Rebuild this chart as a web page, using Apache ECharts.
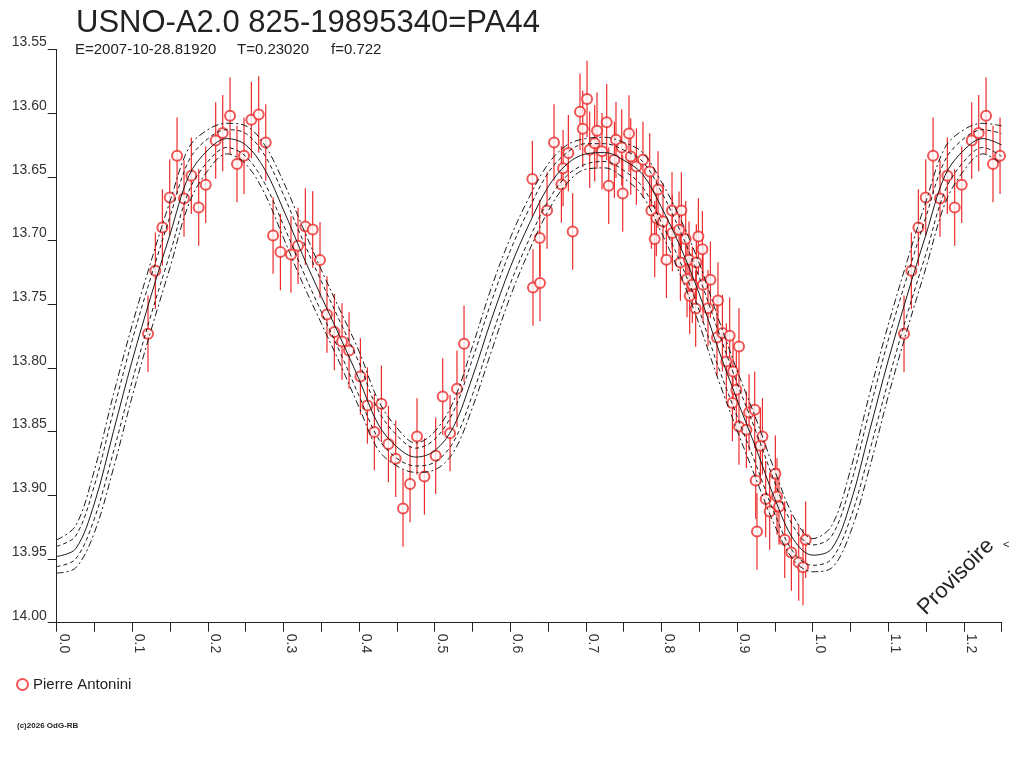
<!DOCTYPE html>
<html lang="fr">
<head>
<meta charset="UTF-8">
<title>USNO-A2.0 825-19895340=PA44</title>
<script src="https://cdn.jsdelivr.net/npm/echarts@6/dist/echarts.min.js"></script>
<style>
    html, body { margin: 0; padding: 0; background: #fff; }
    #app { width: 1024px; height: 768px; }
</style>
</head>
<body>
<div id="app"></div>
<script>
    // observations (Pierre Antonini): phase and magnitude
    var obsPhase = [
        0.1208, 0.1305, 0.1398, 0.1495, 0.1592, 0.1684, 0.1781, 0.1878, 0.1971, 0.2103,
        0.2196, 0.2293, 0.2385, 0.2478, 0.2575, 0.2672, 0.2765, 0.2862, 0.2959, 0.3099,
        0.3192, 0.3289, 0.3386, 0.3483, 0.3575, 0.3673, 0.3774, 0.3867, 0.4017, 0.4110,
        0.4202, 0.4295, 0.4388, 0.4484, 0.4581, 0.4674, 0.4766, 0.4864, 0.5013, 0.5106,
        0.5203, 0.5295, 0.5388, 0.6292, 0.6300, 0.6389, 0.6393, 0.6486, 0.6578, 0.6676,
        0.6698, 0.6768, 0.6825, 0.6922, 0.6958, 0.7015, 0.7050, 0.7116, 0.7147, 0.7213,
        0.7275, 0.7302, 0.7377, 0.7398, 0.7474, 0.7487, 0.7570, 0.7593, 0.7668, 0.7755,
        0.7844, 0.7866, 0.7910, 0.7932, 0.7954, 0.8020, 0.8065, 0.8139, 0.8144, 0.8232,
        0.8250, 0.8263, 0.8320, 0.8338, 0.8364, 0.8373, 0.8408, 0.8452, 0.8461, 0.8488,
        0.8541, 0.8549, 0.8615, 0.8647, 0.8734, 0.8747, 0.8806, 0.8858, 0.8902, 0.8938,
        0.8946, 0.8990, 0.9025, 0.9025, 0.9123, 0.9158, 0.9233, 0.9246, 0.9263, 0.9308,
        0.9335, 0.9378, 0.9431, 0.9506, 0.9528, 0.9554, 0.9630, 0.9718, 0.9815, 0.9872,
        0.9907
    ];
    var obsMag = [
        13.7732, 13.7238, 13.6898, 13.6662, 13.6335, 13.6670, 13.6492, 13.6741, 13.6563, 13.6215,
        13.6157, 13.6021, 13.6400, 13.6335, 13.6053, 13.6011, 13.6231, 13.6961, 13.7091, 13.7110,
        13.7042, 13.6890, 13.6914, 13.7154, 13.7581, 13.7719, 13.7793, 13.7863, 13.8068, 13.8295,
        13.8504, 13.8282, 13.8598, 13.8713, 13.9104, 13.8912, 13.8538, 13.8852, 13.8690, 13.8224,
        13.8512, 13.8164, 13.7811, 13.6518, 13.7369, 13.6981, 13.7334, 13.6765, 13.6231, 13.6560,
        13.6432, 13.6314, 13.6929, 13.5990, 13.6123, 13.5890, 13.6288, 13.6236, 13.6139, 13.6300,
        13.6071, 13.6570, 13.6367, 13.6210, 13.6270, 13.6631, 13.6160, 13.6340, 13.6419, 13.6367,
        13.6458, 13.6765, 13.6989, 13.6824, 13.6600, 13.6851, 13.7151, 13.6765, 13.6942, 13.6916,
        13.7172, 13.6765, 13.6989, 13.7303, 13.7151, 13.7434, 13.7348, 13.7534, 13.7172, 13.6969,
        13.7068, 13.7348, 13.7531, 13.7308, 13.7761, 13.7471, 13.7727, 13.7950, 13.7748, 13.8276,
        13.8028, 13.8172, 13.7832, 13.8460, 13.8486, 13.8350, 13.8329, 13.8884, 13.9284, 13.8611,
        13.8538, 13.9030, 13.9127, 13.8831, 13.9009, 13.9088, 13.9349, 13.9449, 13.9527, 13.9564,
        13.9349
    ];
    var errBar = 0.030;

    // fitted light curve and its envelopes, one value per fitPhase
    var fitPhase = [
        0.000, 0.025, 0.050, 0.075, 0.100, 0.125, 0.150, 0.175, 0.200, 0.225,
        0.250, 0.275, 0.300, 0.325, 0.350, 0.375, 0.400, 0.425, 0.450, 0.475,
        0.500, 0.525, 0.550, 0.575, 0.600, 0.625, 0.650, 0.675, 0.700, 0.725,
        0.750, 0.775, 0.800, 0.825, 0.850, 0.875, 0.900, 0.925, 0.950, 0.975,
        1.000
    ];
    var fitMag = [
        13.948, 13.942, 13.906, 13.850, 13.794, 13.743, 13.695, 13.649, 13.629, 13.620,
        13.625, 13.644, 13.676, 13.711, 13.744, 13.776, 13.809, 13.844, 13.862, 13.870,
        13.865, 13.846, 13.807, 13.762, 13.721, 13.687, 13.658, 13.640, 13.632, 13.631,
        13.637, 13.648, 13.674, 13.705, 13.742, 13.785, 13.825, 13.863, 13.903, 13.935,
        13.947
    ];
    var fitUpOuter = [
        13.935, 13.924, 13.880, 13.821, 13.766, 13.716, 13.669, 13.627, 13.613, 13.608,
        13.610, 13.625, 13.654, 13.689, 13.723, 13.755, 13.787, 13.825, 13.847, 13.859,
        13.850, 13.826, 13.783, 13.737, 13.698, 13.666, 13.640, 13.625, 13.620, 13.619,
        13.623, 13.631, 13.654, 13.683, 13.718, 13.761, 13.802, 13.840, 13.881, 13.917,
        13.934
    ];
    var fitUpInner = [
        13.940, 13.932, 13.892, 13.834, 13.778, 13.728, 13.681, 13.637, 13.620, 13.613,
        13.616, 13.633, 13.664, 13.699, 13.732, 13.764, 13.796, 13.833, 13.853, 13.863,
        13.856, 13.834, 13.793, 13.748, 13.708, 13.675, 13.647, 13.631, 13.624, 13.624,
        13.629, 13.638, 13.662, 13.693, 13.729, 13.771, 13.812, 13.850, 13.890, 13.925,
        13.939
    ];
    var fitLowInner = [
        13.956, 13.950, 13.918, 13.866, 13.810, 13.758, 13.710, 13.661, 13.638, 13.627,
        13.634, 13.655, 13.688, 13.723, 13.756, 13.788, 13.822, 13.855, 13.871, 13.877,
        13.874, 13.858, 13.821, 13.776, 13.734, 13.699, 13.669, 13.649, 13.640, 13.638,
        13.645, 13.658, 13.686, 13.717, 13.755, 13.799, 13.838, 13.876, 13.915, 13.945,
        13.955
    ];
    var fitLowOuter = [
        13.961, 13.957, 13.929, 13.879, 13.822, 13.770, 13.721, 13.671, 13.645, 13.632,
        13.640, 13.663, 13.698, 13.733, 13.765, 13.797, 13.831, 13.864, 13.877, 13.882,
        13.880, 13.866, 13.831, 13.787, 13.744, 13.708, 13.677, 13.655, 13.644, 13.643,
        13.651, 13.665, 13.694, 13.727, 13.766, 13.809, 13.849, 13.887, 13.924, 13.951,
        13.960
    ];

    var phaseMax = 1.25;
    var magMin = 13.55, magMax = 14.00;
    var observer = 'Pierre Antonini';

    var FONT = '"Liberation Sans", Arial, sans-serif';
    var RED = '#ee2b2b';

    // the phase diagram is shown once more after 1.0, up to phaseMax
    function phased(ph, vals) {
        var out = [];
        for (var i = 0; i < ph.length; i++) out.push([ph[i], vals[i]]);
        for (var i = 0; i < ph.length; i++) {
            if (ph[i] > 0 && ph[i] + 1 <= phaseMax) out.push([ph[i] + 1, vals[i]]);
        }
        out.sort(function (a, b) { return a[0] - b[0]; });
        return out;
    }

    var obsData = phased(obsPhase, obsMag);

    function fitLine(vals, dash) {
        return {
            type: 'line',
            data: phased(fitPhase, vals),
            symbol: 'none',
            smooth: 0.35,
            silent: true,
            z: 5,
            lineStyle: { color: '#1a1a1a', width: 1, type: dash }
        };
    }

    var myChart = echarts.init(document.getElementById('app'));

    var option = {
        animation: false,
        backgroundColor: '#fff',
        title: {
            text: 'USNO-A2.0 825-19895340=PA44',
            left: 71,
            top: 3,
            textStyle: { fontFamily: FONT, fontSize: 31, fontWeight: 'normal', color: '#222' }
        },
        legend: {
            left: 16,
            top: 677,
            padding: 0,
            itemWidth: 11,
            itemHeight: 11,
            data: [{ name: observer, icon: 'emptyCircle' }],
            textStyle: { fontFamily: FONT, fontSize: 15, color: '#222' }
        },
        grid: { left: 56.7, right: 22.3, top: 49.4, bottom: 145.3, containLabel: false },
        xAxis: {
            type: 'value',
            min: 0,
            max: phaseMax,
            interval: 0.05,
            splitLine: { show: false },
            axisLine: { lineStyle: { color: '#222', width: 1 } },
            axisTick: { length: 9, lineStyle: { color: '#222' } },
            axisLabel: {
                rotate: -90,
                margin: 11,
                verticalAlign: 'bottom',
                fontFamily: FONT,
                fontSize: 14,
                color: '#333',
                formatter: function (v) {
                    var t = Math.round(v * 100);
                    return t % 10 === 0 ? (t / 100).toFixed(1) : '';
                }
            }
        },
        yAxis: {
            type: 'value',
            inverse: true,
            min: magMin,
            max: magMax,
            interval: 0.05,
            splitLine: { show: false },
            axisLine: { show: true, lineStyle: { color: '#222', width: 1 } },
            axisTick: { show: true, length: 9, lineStyle: { color: '#222' } },
            axisLabel: {
                margin: 10,
                verticalAlign: 'bottom',
                fontFamily: FONT,
                fontSize: 14,
                color: '#333',
                formatter: function (v) { return v.toFixed(2); }
            }
        },
        series: [
            {
                type: 'custom',
                name: 'errors',
                silent: true,
                z: 3,
                data: obsData,
                encode: { x: 0, y: 1 },
                renderItem: function (params, api) {
                    var p = api.value(0), m = api.value(1);
                    var a = api.coord([p, m - errBar]);
                    var b = api.coord([p, m + errBar]);
                    return {
                        type: 'line',
                        shape: { x1: a[0], y1: a[1], x2: b[0], y2: b[1] },
                        style: { stroke: RED, lineWidth: 1.2 }
                    };
                }
            },
            {
                type: 'scatter',
                name: observer,
                data: obsData,
                symbol: 'emptyCircle',
                symbolSize: 10,
                z: 4,
                itemStyle: { color: RED, borderColor: RED, borderWidth: 1.1 }
            },
            fitLine(fitMag, 'solid'),
            fitLine(fitUpInner, [4, 3]),
            fitLine(fitLowInner, [4, 3]),
            fitLine(fitUpOuter, [7, 3, 2, 3]),
            fitLine(fitLowOuter, [7, 3, 2, 3])
        ],
        graphic: [
            { type: 'text', left: 75, top: 42, style: { text: 'E=2007-10-28.81920', font: '15px ' + FONT, fill: '#222' } },
            { type: 'text', left: 237, top: 42, style: { text: 'T=0.23020', font: '15px ' + FONT, fill: '#222' } },
            { type: 'text', left: 331, top: 42, style: { text: 'f=0.722', font: '15px ' + FONT, fill: '#222' } },
            { type: 'text', left: 17, top: 722, style: { text: '(c)2026 OdG-RB', font: 'bold 8px ' + FONT, fill: '#222' } },
            {
                type: 'text', x: 956, y: 577, rotation: Math.PI / 4,
                style: { text: 'Provisoire', font: '22px ' + FONT, fill: '#222', align: 'center', verticalAlign: 'middle' }
            },
            { type: 'text', x: 1003, y: 539, style: { text: '<', font: '11px ' + FONT, fill: '#222' } }
        ]
    };

    myChart.setOption(option);
</script>
</body>
</html>
